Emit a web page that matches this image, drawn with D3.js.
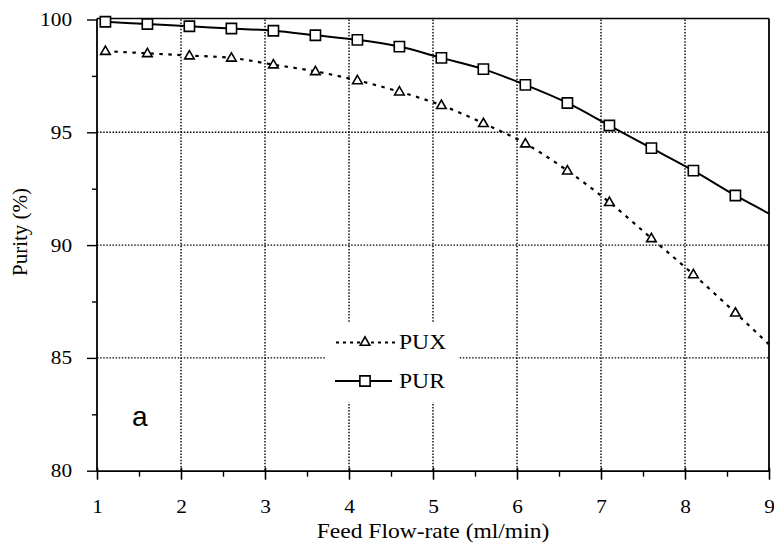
<!DOCTYPE html>
<html>
<head>
<meta charset="utf-8">
<script src="https://cdn.jsdelivr.net/npm/d3@7"></script>
<style>
html,body{margin:0;padding:0;background:#fff;}
svg{display:block;}
text{font-family:"Liberation Serif","Times New Roman",serif;fill:#000;}
</style>
</head>
<body>
<svg id="chart" width="774" height="548"></svg>
<script>
// ---- data ----
const flowRates = [1.1, 1.6, 2.1, 2.6, 3.1, 3.6, 4.1, 4.6, 5.1, 5.6, 6.1, 6.6, 7.1, 7.6, 8.1, 8.6];
const pux = [98.6, 98.5, 98.4, 98.3, 98.0, 97.7, 97.3, 96.8, 96.2, 95.4, 94.5, 93.3, 91.9, 90.3, 88.7, 87.0];
const pur = [99.9, 99.8, 99.7, 99.6, 99.5, 99.3, 99.1, 98.8, 98.3, 97.8, 97.1, 96.3, 95.3, 94.3, 93.3, 92.2];
// curve continuation to the right edge of the plot (no marker)
const endX = 9.0;
const puxEnd = 85.6;
const purEnd = 91.4;
const xTicks = [1, 2, 3, 4, 5, 6, 7, 8, 9];
const xMinorTicks = [1.5, 2.5, 3.5, 4.5, 5.5, 6.5, 7.5, 8.5];
const yTicks = [80, 85, 90, 95, 100];
const yMinorTicks = [82.5, 87.5, 92.5, 97.5];
const seriesNames = ["PUX", "PUR"];
const xTitle = "Feed Flow-rate (ml/min)";
const yTitle = "Purity (%)";
const panelLabel = "a";

// ---- layout ----
const svg = d3.select("#chart");
const pL = 97, pR = 769, pT = 19.5, pB = 470.7;
const x = d3.scaleLinear().domain([1, 9]).range([pL, pR]);
const y = d3.scaleLinear().domain([80, 100]).range([pB, pT]);

// widen glyphs horizontally (the original scan is slightly stretched)
function stretch(sel, f) {
  sel.each(function () {
    const w = this.getComputedTextLength();
    d3.select(this).attr("textLength", w * f).attr("lengthAdjust", "spacingAndGlyphs");
  });
}

// grid
const grid = svg.append("g").attr("stroke", "#000").attr("stroke-width", 1.4).attr("stroke-dasharray", "1.5 1.6");
grid.selectAll("line.v").data(xTicks.slice(1, -1)).join("line").attr("class", "v")
  .attr("x1", d => x(d)).attr("x2", d => x(d)).attr("y1", pT).attr("y2", pB);
grid.selectAll("line.h").data([85, 90, 95]).join("line").attr("class", "h")
  .attr("x1", pL).attr("x2", pR).attr("y1", d => y(d)).attr("y2", d => y(d));

// legend background (white box hides grid)
svg.append("rect").attr("x", 325).attr("y", 323).attr("width", 133).attr("height", 79).attr("fill", "#fff");

// frame top/right
svg.append("line").attr("x1", pL).attr("x2", pR).attr("y1", pT - 1).attr("y2", pT - 1).attr("stroke", "#000").attr("stroke-width", 1.5);
svg.append("line").attr("x1", pR).attr("x2", pR).attr("y1", pT - 1).attr("y2", pB).attr("stroke", "#000").attr("stroke-width", 1.8);

// axes
const xAxis = svg.append("g").attr("transform", `translate(0,${pB})`)
  .call(d3.axisBottom(x).tickValues(xTicks).tickFormat(d3.format("d")).tickSizeInner(9).tickSizeOuter(0).tickPadding(20));
xAxis.select(".domain").attr("stroke-width", 1.8);
xAxis.selectAll(".tick line").attr("stroke-width", 1.6).attr("y1", -3);
xAxis.selectAll(".tick text").attr("font-size", 19).attr("font-family", "Liberation Serif, serif").call(stretch, 1.12);
svg.append("g").attr("transform", `translate(0,${pB})`)
  .call(d3.axisBottom(x).tickValues(xMinorTicks).tickFormat("").tickSizeInner(6).tickSizeOuter(0))
  .call(g => g.select(".domain").remove())
  .selectAll(".tick line").attr("stroke-width", 1.4);

const yAxis = svg.append("g").attr("transform", `translate(${pL},0)`)
  .call(d3.axisLeft(y).tickValues(yTicks).tickFormat(d3.format("d")).tickSizeInner(10).tickSizeOuter(0).tickPadding(15));
yAxis.select(".domain").attr("stroke-width", 1.8).attr("d", `M0,${pT - 1}V${pB}`);
yAxis.selectAll(".tick line").attr("stroke-width", 1.4);
yAxis.selectAll(".tick text").attr("font-size", 19).attr("font-family", "Liberation Serif, serif").call(stretch, 1.12);
svg.append("g").attr("transform", `translate(${pL},0)`)
  .call(d3.axisLeft(y).tickValues(yMinorTicks).tickFormat("").tickSizeInner(5).tickSizeOuter(0))
  .call(g => g.select(".domain").remove())
  .selectAll(".tick line").attr("stroke-width", 1.4);

// series
const puxPts = flowRates.map((f, i) => [f, pux[i]]).concat([[endX, puxEnd]]);
const purPts = flowRates.map((f, i) => [f, pur[i]]).concat([[endX, purEnd]]);
const line = d3.line().x(d => x(d[0])).y(d => y(d[1])).curve(d3.curveMonotoneX);

svg.append("path").datum(puxPts).attr("d", line).attr("fill", "none")
  .attr("stroke", "#000").attr("stroke-width", 2.2).attr("stroke-dasharray", "3.5 5.5");
svg.append("path").datum(purPts).attr("d", line).attr("fill", "none")
  .attr("stroke", "#000").attr("stroke-width", 2);

const tri = d3.symbol().type(d3.symbolTriangle).size(40);
const sq = d3.symbol().type(d3.symbolSquare).size(105);

svg.append("g").selectAll("path").data(flowRates.map((f, i) => [f, pux[i]])).join("path")
  .attr("d", tri).attr("transform", d => `translate(${x(d[0])},${y(d[1]) + 0.5})`)
  .attr("fill", "#fff").attr("stroke", "#000").attr("stroke-width", 1.6);
svg.append("g").selectAll("path").data(flowRates.map((f, i) => [f, pur[i]])).join("path")
  .attr("d", sq).attr("transform", d => `translate(${x(d[0])},${y(d[1])})`)
  .attr("fill", "#fff").attr("stroke", "#000").attr("stroke-width", 1.6);

// legend
const lg = svg.append("g");
lg.append("line").attr("x1", 336).attr("x2", 395).attr("y1", 342.5).attr("y2", 342.5)
  .attr("stroke", "#000").attr("stroke-width", 2).attr("stroke-dasharray", "3 4");
lg.append("path").attr("d", tri).attr("transform", "translate(365,342.5)")
  .attr("fill", "#fff").attr("stroke", "#000").attr("stroke-width", 1.6);
lg.append("text").attr("x", 399).attr("y", 348.5).attr("font-size", 20.5).text(seriesNames[0]).call(stretch, 1.15);
lg.append("line").attr("x1", 335).attr("x2", 392).attr("y1", 381).attr("y2", 381)
  .attr("stroke", "#000").attr("stroke-width", 2);
lg.append("path").attr("d", sq).attr("transform", "translate(365,381)")
  .attr("fill", "#fff").attr("stroke", "#000").attr("stroke-width", 1.6);
lg.append("text").attr("x", 399).attr("y", 387.5).attr("font-size", 20.5).text(seriesNames[1]).call(stretch, 1.15);

// panel label
svg.append("text").attr("x", 132).attr("y", 426).attr("font-size", 28)
  .style("font-family", "'Liberation Sans', Arial, sans-serif").text(panelLabel);

// titles
svg.append("text").attr("x", 433).attr("y", 538).attr("text-anchor", "middle").attr("font-size", 21).text(xTitle).call(stretch, 1.12);
svg.append("text").attr("transform", "translate(27,232) rotate(-90)").attr("text-anchor", "middle").attr("font-size", 21).text(yTitle);
</script>
</body>
</html>
